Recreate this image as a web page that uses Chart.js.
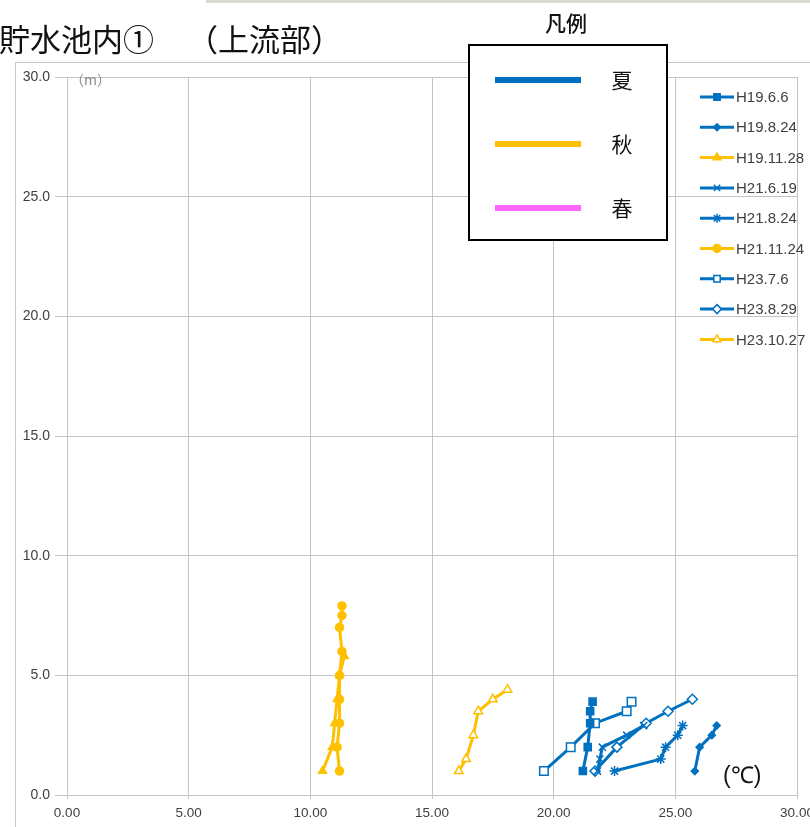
<!DOCTYPE html>
<html>
<head>
<meta charset="utf-8">
<script src="https://cdn.jsdelivr.net/npm/chart.js@4.4.1/dist/chart.umd.min.js"></script>
<style>
  html, body { margin: 0; padding: 0; background: #fff; }
  #wrap { width: 810px; height: 827px; }
</style>
</head>
<body>
<div id="wrap"><canvas id="tempChart" width="810" height="827"></canvas></div>
<script>
// 水温(℃) と 水深(m)
var h19_6_6_temp = [21.2, 21.4, 21.5, 21.5, 21.6];
var h19_6_6_depth = [1.0, 2.0, 3.0, 3.5, 3.9];
var h19_8_24_temp = [25.8, 26.0, 26.5, 26.7];
var h19_8_24_depth = [1.0, 2.0, 2.5, 2.9];
var h19_11_28_temp = [10.5, 10.9, 11.0, 11.1, 11.2, 11.4];
var h19_11_28_depth = [1.0, 2.0, 3.0, 4.0, 5.0, 5.8];
var h21_6_19_temp = [21.8, 21.9, 22.0, 23.0, 23.7];
var h21_6_19_depth = [1.0, 1.5, 2.0, 2.5, 2.9];
var h21_8_24_temp = [22.5, 24.4, 24.6, 25.1, 25.3];
var h21_8_24_depth = [1.0, 1.5, 2.0, 2.5, 2.9];
var h21_11_24_temp = [11.2, 11.1, 11.2, 11.2, 11.2, 11.3, 11.2, 11.3, 11.3];
var h21_11_24_depth = [1.0, 2.0, 3.0, 4.0, 5.0, 6.0, 7.0, 7.5, 7.9];
var h23_7_6_temp = [19.6, 20.7, 21.7, 23.0, 23.2];
var h23_7_6_depth = [1.0, 2.0, 3.0, 3.5, 3.9];
var h23_8_29_temp = [21.7, 22.6, 23.8, 24.7, 25.7];
var h23_8_29_depth = [1.0, 2.0, 3.0, 3.5, 4.0];
var h23_10_27_temp = [16.1, 16.4, 16.7, 16.9, 17.5, 18.1];
var h23_10_27_depth = [1.0, 1.5, 2.5, 3.5, 4.0, 4.4];

var seasonLabels = ['夏', '秋', '春'];
var BLUE = '#0070C0', ORANGE = '#FFC000', PINK = '#FF66FF';
var seasonColors = [BLUE, ORANGE, PINK];

function pairs(temp, depth) {
    return temp.map(function (t, i) { return { x: t, y: depth[i] }; });
}

function series(label, temp, depth, color, style, radius, open) {
    return {
        label: label,
        data: pairs(temp, depth),
        showLine: true,
        borderColor: color,
        borderWidth: 3,
        pointStyle: style,
        pointRadius: radius,
        pointBorderColor: color,
        pointBackgroundColor: open ? '#ffffff' : color,
        pointBorderWidth: 1.5
    };
}

var datasets = [
    series('H19.6.6', h19_6_6_temp, h19_6_6_depth, BLUE, 'rect', 5, false),
    series('H19.8.24', h19_8_24_temp, h19_8_24_depth, BLUE, 'rectRot', 3.5, false),
    series('H19.11.28', h19_11_28_temp, h19_11_28_depth, ORANGE, 'triangle', 4.5, false),
    series('H21.6.19', h21_6_19_temp, h21_6_19_depth, BLUE, 'crossRot', 5, false),
    series('H21.8.24', h21_8_24_temp, h21_8_24_depth, BLUE, 'star', 5, false),
    series('H21.11.24', h21_11_24_temp, h21_11_24_depth, ORANGE, 'circle', 4, false),
    series('H23.7.6', h23_7_6_temp, h23_7_6_depth, BLUE, 'rect', 6, true),
    series('H23.8.29', h23_8_29_temp, h23_8_29_depth, BLUE, 'rectRot', 5, true),
    series('H23.10.27', h23_10_27_temp, h23_10_27_depth, ORANGE, 'triangle', 5, true)
];

var FONT = "'Liberation Sans', sans-serif";
var GRID = '#c4c4c4';

// 枠・タイトル・凡例などの描画
var decorations = {
    id: 'decorations',
    beforeDraw: function (chart) {
        var ctx = chart.ctx;
        ctx.save();
        ctx.fillStyle = '#ffffff';
        ctx.fillRect(0, 0, chart.width, chart.height);
        // 上端の帯
        ctx.fillStyle = '#d9dccf';
        ctx.fillRect(206, 0, 604, 3);
        // グラフ外枠
        ctx.strokeStyle = '#c8c8c8';
        ctx.lineWidth = 1;
        ctx.beginPath();
        ctx.moveTo(15.5, chart.height);
        ctx.lineTo(15.5, 62.5);
        ctx.lineTo(chart.width, 62.5);
        ctx.stroke();
        // タイトル
        ctx.fillStyle = '#111111';
        ctx.font = "31px 'Noto Sans CJK JP', sans-serif";
        ctx.textBaseline = 'middle';
        ctx.textAlign = 'left';
        ctx.fillText('貯水池内①', -1, 39);
        ctx.fillText('（上流部）', 187, 39);
        ctx.restore();
    },
    afterDraw: function (chart) {
        var ctx = chart.ctx;
        var area = chart.chartArea;
        ctx.save();

        // 単位
        ctx.fillStyle = '#8a8a8a';
        ctx.font = "14px 'Noto Sans CJK JP', sans-serif";
        ctx.textBaseline = 'middle';
        ctx.fillText('（m）', area.left + 3, area.top + 3);
        ctx.fillStyle = '#111111';
        ctx.font = "23px " + FONT;
        ctx.fillText('(℃)', 723, 777);

        // 季節の凡例
        ctx.fillStyle = '#111111';
        ctx.font = "500 21px 'Noto Sans CJK JP', sans-serif";
        ctx.textAlign = 'center';
        ctx.fillText('凡例', 566, 23);
        ctx.fillStyle = '#ffffff';
        ctx.fillRect(469, 45, 198, 195);
        ctx.strokeStyle = '#000000';
        ctx.lineWidth = 2;
        ctx.strokeRect(469, 45, 198, 195);
        ctx.font = "21px 'Noto Sans CJK JP', sans-serif";
        seasonLabels.forEach(function (s, i) {
            var y = 80 + i * 64;
            ctx.fillStyle = seasonColors[i];
            ctx.fillRect(495, y - 3, 86, 6);
            ctx.fillStyle = '#111111';
            ctx.fillText(s, 622, y);
        });

        // 調査日の凡例
        ctx.textAlign = 'left';
        ctx.font = "15px " + FONT;
        chart.data.datasets.forEach(function (ds, i) {
            var y = 97 + i * 30.3;
            ctx.strokeStyle = ds.borderColor;
            ctx.lineWidth = 3;
            ctx.beginPath();
            ctx.moveTo(700, y);
            ctx.lineTo(734, y);
            ctx.stroke();
            ctx.fillStyle = ds.pointBackgroundColor;
            ctx.strokeStyle = ds.pointBorderColor;
            ctx.lineWidth = ds.pointBorderWidth;
            Chart.helpers.drawPoint(ctx, {
                pointStyle: ds.pointStyle,
                radius: Math.min(ds.pointRadius, 4.5),
                rotation: 0,
                borderWidth: ds.pointBorderWidth
            }, 717, y);
            ctx.fillStyle = '#404040';
            ctx.fillText(ds.label, 736, y + 1);
        });
        ctx.restore();
    }
};

var ctx = document.getElementById('tempChart').getContext('2d');
new Chart(ctx, {
    type: 'scatter',
    data: { datasets: datasets },
    options: {
        responsive: false,
        animation: false,
        devicePixelRatio: 1,
        layout: { padding: { left: 15, right: 13, top: 77, bottom: 0 } },
        plugins: {
            legend: { display: false },
            tooltip: { enabled: false }
        },
        scales: {
            x: {
                type: 'linear',
                min: 0,
                max: 30,
                ticks: {
                    stepSize: 5,
                    color: '#404040',
                    font: { family: FONT, size: 13.5 },
                    padding: 6,
                    callback: function (v) { return v.toFixed(2); }
                },
                grid: { color: GRID, tickLength: 4 },
                border: { color: GRID },
                afterFit: function (scale) {
                    scale.height = 32;
                    scale.paddingLeft = 0;
                    scale.paddingRight = 0;
                }
            },
            y: {
                type: 'linear',
                min: 0,
                max: 30,
                ticks: {
                    stepSize: 5,
                    color: '#404040',
                    font: { family: FONT, size: 14 },
                    padding: 5,
                    callback: function (v) { return v.toFixed(1); }
                },
                grid: { color: GRID, tickLength: 12 },
                border: { color: GRID },
                afterFit: function (scale) {
                    scale.width = 52;
                    scale.paddingTop = 0;
                    scale.paddingBottom = 0;
                }
            }
        }
    },
    plugins: [decorations]
});
</script>
</body>
</html>
